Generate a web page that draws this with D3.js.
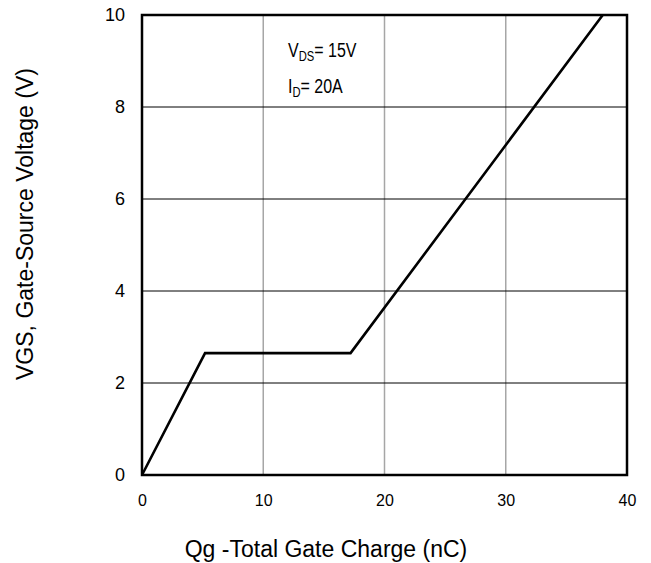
<!DOCTYPE html>
<html>
<head>
<meta charset="utf-8">
<script src="https://cdn.jsdelivr.net/npm/d3@7/dist/d3.min.js"></script>
<style>
  html, body { margin: 0; padding: 0; background: #fff; }
  svg { display: block; }
</style>
</head>
<body>
<svg id="chart" width="651" height="563"></svg>
<script>
// Data
const chargeNC = [0, 5.2, 17.2, 38.0];
const vgsV     = [0, 2.65, 2.65, 10];
const xTicks   = [0, 10, 20, 30, 40];
const yTicks   = [0, 2, 4, 6, 8, 10];
const xTitle   = "Qg -Total Gate Charge (nC)";
const yTitle   = "VGS, Gate-Source Voltage (V)";
const notes    = [["V", "DS", "= 15V"], ["I", "D", "= 20A"]];

const svg = d3.select("#chart");
const L = 142, R = 627, T = 15, B = 475;
const x = d3.scaleLinear().domain([0, 40]).range([L, R]);
const y = d3.scaleLinear().domain([0, 10]).range([B, T]);
const font = "'Liberation Sans', Arial, sans-serif";

// vertical grid (gray)
svg.append("g").selectAll("line").data(xTicks.slice(1, -1)).join("line")
  .attr("x1", d => x(d)).attr("x2", d => x(d))
  .attr("y1", T).attr("y2", B)
  .attr("stroke", "#a6a6a6").attr("stroke-width", 1.5);

// horizontal grid (black)
svg.append("g").selectAll("line").data(yTicks.slice(1, -1)).join("line")
  .attr("x1", L).attr("x2", R)
  .attr("y1", d => y(d)).attr("y2", d => y(d))
  .attr("stroke", "#000").attr("stroke-width", 1);

// axes (labels only)
const xAxis = svg.append("g").attr("transform", `translate(0,${B + 17})`)
  .call(d3.axisBottom(x).tickValues(xTicks).tickSize(0).tickFormat(d3.format("d")));
xAxis.select(".domain").remove();
xAxis.selectAll("text").attr("font-family", font).attr("font-size", 16).attr("fill", "#000");

const yAxis = svg.append("g").attr("transform", `translate(${L - 14},0)`)
  .call(d3.axisLeft(y).tickValues(yTicks).tickSize(0).tickFormat(d3.format("d")));
yAxis.select(".domain").remove();
yAxis.selectAll("text").attr("font-family", font).attr("font-size", 18).attr("fill", "#000");

// curve
const pts = chargeNC.map((c, i) => [c, vgsV[i]]);
svg.append("path").datum(pts)
  .attr("d", d3.line().x(d => x(d[0])).y(d => y(d[1])))
  .attr("fill", "none").attr("stroke", "#000").attr("stroke-width", 2.6)
  .attr("stroke-linejoin", "miter");

// frame
svg.append("rect").attr("x", L).attr("y", T).attr("width", R - L).attr("height", B - T)
  .attr("fill", "none").attr("stroke", "#000").attr("stroke-width", 2.5);

// annotations (condensed look)
notes.forEach((n, i) => {
  const g = svg.append("g").attr("transform", `translate(288,${57 + i * 36}) scale(0.8,1)`);
  const t = g.append("text").attr("x", 0).attr("y", 0)
    .attr("font-family", font).attr("font-size", 20).attr("fill", "#000");
  t.append("tspan").text(n[0]);
  t.append("tspan").attr("font-size", 14).attr("dy", 4).text(n[1]);
  t.append("tspan").attr("dy", -4).text(n[2]);
});

// axis titles
svg.append("text").attr("x", 326).attr("y", 557).attr("text-anchor", "middle")
  .attr("font-family", font).attr("font-size", 23).attr("fill", "#000").text(xTitle);
svg.append("text").attr("transform", "translate(33,224) rotate(-90)").attr("text-anchor", "middle")
  .attr("font-family", font).attr("font-size", 23).attr("fill", "#000").text(yTitle);
</script>
</body>
</html>
